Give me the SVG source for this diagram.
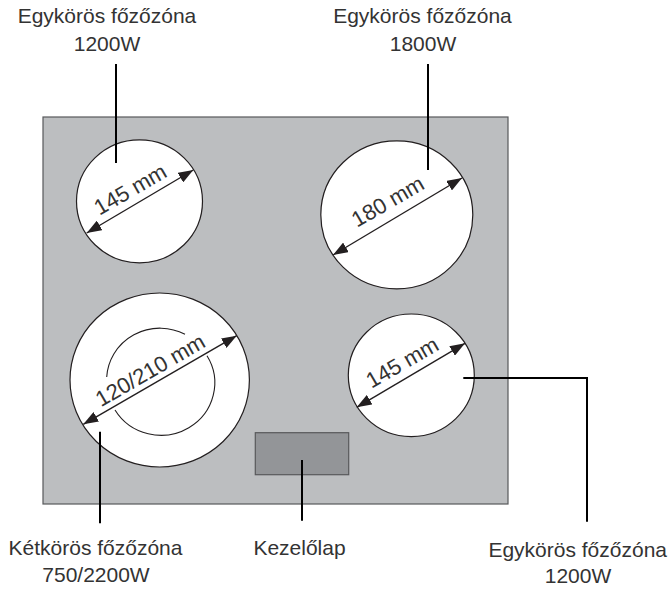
<svg xmlns="http://www.w3.org/2000/svg" width="672" height="589" viewBox="0 0 672 589">
<style>
text{font-family:"Liberation Sans",Arial,sans-serif;font-size:21px;fill:#333;text-anchor:middle}
.d{font-size:22px}
.plate{fill:#bcbec0;stroke:#58595b;stroke-width:1.2}
.zone{fill:#fff;stroke:#231f20;stroke-width:1.2}
.inner{fill:none;stroke:#231f20;stroke-width:1.1}
.lead{fill:none;stroke:#000;stroke-width:2}
.dim{stroke:#231f20;stroke-width:1.4;fill:none;marker-start:url(#a);marker-end:url(#a)}
</style>
<defs><marker id="a" markerUnits="userSpaceOnUse" markerWidth="15" markerHeight="11" refX="15" refY="5.5" orient="auto-start-reverse"><path d="M0 0L15 5.5L0 11Z" fill="#231f20"/></marker></defs>
<rect id="plate" class="plate" x="43" y="117" width="465" height="387"/>
<g id="zone-tl"><ellipse class="zone" cx="139.5" cy="201.3" rx="63" ry="61.5"/><path class="dim" d="M86.7 233L193.3 170"/><text class="d" transform="translate(134 196) rotate(-30)">145 mm</text></g>
<g id="zone-tr"><ellipse class="zone" cx="396.8" cy="214.8" rx="76" ry="74"/><path class="dim" d="M333 255L462 178"/><text class="d" transform="translate(391.5 208) rotate(-30)">180 mm</text></g>
<g id="zone-bl"><ellipse class="zone" cx="159.7" cy="380" rx="89.7" ry="87"/><path class="inner" d="M185 334.3A53.3 52 0 0 0 106.7 377M207 355.7A53.3 52 0 0 1 115 410"/><path class="dim" d="M83.3 424.3L236.7 335.7"/><text class="d" transform="translate(154 376.7) rotate(-30)">120/210 mm</text></g>
<g id="zone-br"><ellipse class="zone" cx="411.3" cy="375.3" rx="63" ry="61.3"/><path class="dim" d="M356.7 407.3L465 343.3"/><text class="d" transform="translate(406 369) rotate(-30)">145 mm</text></g>
<g id="panel"><rect x="255.3" y="432.7" width="93.4" height="42" fill="#939598" stroke="#58595b" stroke-width="1.2"/></g>
<g id="connectors">
<path class="lead" d="M116 64V163"/><path class="lead" d="M428 64V170"/><path class="lead" d="M100 431.7V523.3"/><path class="lead" d="M302 460V520.7"/><path class="lead" d="M463.3 378H587V521.7"/>
</g>
<g id="label-tl"><text x="107" y="23">Egykörös főzőzóna</text><text x="107" y="50.7">1200W</text></g>
<g id="label-tr"><text x="422.5" y="23">Egykörös főzőzóna</text><text x="423" y="50.7">1800W</text></g>
<g id="label-bl"><text x="95.5" y="555">Kétkörös főzőzóna</text><text x="96" y="581.7">750/2200W</text></g>
<g id="label-panel"><text x="299.5" y="555">Kezelőlap</text></g>
<g id="label-br"><text x="577.7" y="556.7">Egykörös főzőzóna</text><text x="578" y="583">1200W</text></g>
</svg>
